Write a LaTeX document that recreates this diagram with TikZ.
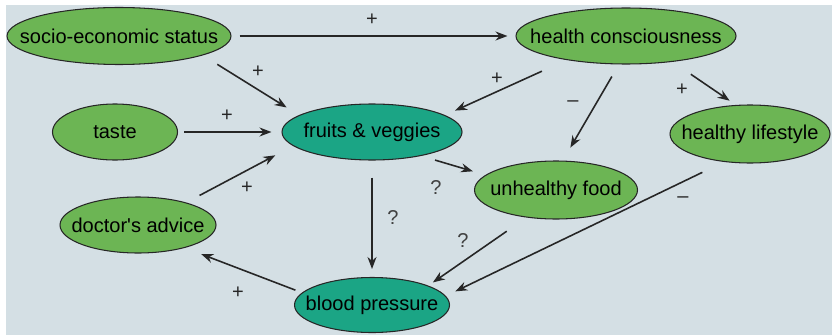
\documentclass[tikz,border=0pt]{standalone}
\usepackage{fontspec}
\setmainfont{Liberation Sans}
\usetikzlibrary{arrows.meta,shapes.geometric}
\definecolor{bgc}{RGB}{212,223,228}
\definecolor{leaf}{RGB}{108,181,84}
\definecolor{sea}{RGB}{27,165,133}
\definecolor{ink}{RGB}{38,38,38}
\tikzset{
  fac/.style={ellipse, draw=ink, line width=0.6pt, fill=leaf, inner sep=0pt},
  key/.style={fac, fill=sea},
  flow/.style={-{Stealth[length=2.4mm, width=1.8mm]}, draw=ink, line width=0.9pt},
  lbl/.style={text=ink, inner sep=1pt},
  qlbl/.style={lbl, text=black!75},
}

\begin{document}
\begin{tikzpicture}[x=1cm, y=1cm, font=\fontsize{11.4}{13}\selectfont]
  \useasboundingbox (0,0) rectangle (16.64,-6.70);
  \fill[bgc] (0.12,-0.10) rectangle (16.64,-6.70);

  \node[fac, minimum width=4.48cm, minimum height=1.14cm, label=center:socio-economic status] (ses) at (2.38,-0.72) {};
  \node[fac, minimum width=4.40cm, minimum height=1.12cm, label=center:health consciousness] (hc) at (12.52,-0.72) {};
  \node[fac, minimum width=2.50cm, minimum height=1.12cm, label=center:taste] (taste) at (2.30,-2.64) {};
  \node[key, minimum width=3.60cm, minimum height=1.12cm, label=center:{fruits \& veggies}] (fv) at (7.44,-2.64) {};
  \node[fac, minimum width=3.20cm, minimum height=1.16cm, label=center:healthy lifestyle] (hl) at (15.00,-2.68) {};
  \node[fac, minimum width=3.26cm, minimum height=1.16cm, label=center:unhealthy food] (uf) at (11.12,-3.80) {};
  \node[fac, minimum width=3.12cm, minimum height=1.12cm, label=center:{doctor\textquotesingle s advice}] (da) at (2.76,-4.50) {};
  \node[key, minimum width=3.10cm, minimum height=1.10cm, label=center:blood pressure] (bp) at (7.44,-6.10) {};

  \draw[flow, shorten <=0.16cm, shorten >=0.16cm] (ses) -- (hc);
  \draw[flow, shorten <=0.34cm, shorten >=0.29cm] (ses.-13) -- (fv.167);
  \draw[flow, shorten <=0.12cm, shorten >=0.20cm] (taste) -- (fv);
  \draw[flow, shorten <=0.30cm, shorten >=0.40cm] (da.25) -- (fv.190);
  \draw[flow, shorten <=0.54cm, shorten >=0.22cm] (hc.202) -- (fv.13);
  \draw[flow, shorten <=0.28cm, shorten >=0.30cm] (hc.-104) -- (uf.77);
  \draw[flow, shorten <=0.44cm, shorten >=0.15cm] (hc.-29) -- (hl.116);
  \draw[flow, shorten <=0.29cm, shorten >=0.26cm] (fv.-26) -- (uf.168);
  \draw[flow, shorten <=0.34cm, shorten >=0.16cm] (fv) -- (bp);
  \draw[flow, shorten <=0.48cm, shorten >=0.11cm] (uf.-137) -- (bp.19);
  \draw[flow, shorten <=0.48cm, shorten >=0.21cm] (hl.-133) -- (bp.7);
  \draw[flow, shorten <=0.14cm, shorten >=0.35cm] (bp.170) -- (da.-26);

  % signs on the arrows
  \node[lbl] (s-ses-hc) at (7.44,-0.40) {+};
  \node[lbl] (s-ses-fv) at (5.16,-1.44) {+};
  \node[lbl] (s-taste-fv) at (4.54,-2.32) {+};
  \node[lbl] (s-da-fv) at (4.94,-3.76) {+};
  \node[lbl] (s-hc-fv) at (9.94,-1.58) {+};
  \node[lbl] (s-hc-uf) at (11.46,-2.08) {–};
  \node[lbl] (s-hc-hl) at (13.64,-1.80) {+};
  \node[qlbl] (s-fv-uf) at (8.72,-3.76) {?};
  \node[qlbl] (s-fv-bp) at (7.86,-4.36) {?};
  \node[qlbl] (s-uf-bp) at (9.26,-4.82) {?};
  \node[lbl] (s-hl-bp) at (13.66,-4.00) {–};
  \node[lbl] (s-bp-da) at (4.76,-5.86) {+};
\end{tikzpicture}
\end{document}
